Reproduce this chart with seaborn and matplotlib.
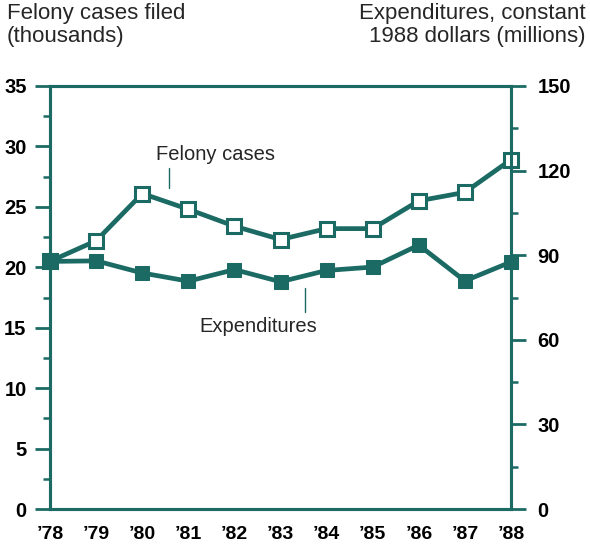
import matplotlib
matplotlib.use("Agg")
import matplotlib.pyplot as plt
import seaborn as sns
import pandas as pd
from matplotlib.ticker import MultipleLocator

years = ["’78", "’79", "’80", "’81", "’82", "’83", "’84", "’85", "’86", "’87", "’88"]
felony_cases = [20.5, 22.2, 26.1, 24.8, 23.4, 22.3, 23.2, 23.2, 25.5, 26.2, 28.9]
expenditures = [87.8, 88.0, 83.7, 80.8, 84.9, 80.6, 84.6, 85.8, 93.6, 80.9, 87.6]

sns.set_style("ticks")
plt.rcParams["font.family"] = ["Liberation Sans", "DejaVu Sans"]

TEAL = "#1b6b64"
df = pd.DataFrame({"idx": range(len(years)), "felony": felony_cases, "exp": expenditures})

fig = plt.figure(figsize=(5.9, 5.51), dpi=100)
ax = fig.add_axes([0.085, 0.076, 0.781, 0.768])
ax2 = ax.twinx()

sns.lineplot(data=df, x="idx", y="felony", ax=ax, color=TEAL, lw=3.4,
             marker="s", markersize=10, markerfacecolor="white", markeredgecolor=TEAL,
             markeredgewidth=2.2, clip_on=False, zorder=3)
sns.lineplot(data=df, x="idx", y="exp", ax=ax2, color=TEAL, lw=3.4,
             marker="s", markersize=10.5, markerfacecolor=TEAL, markeredgecolor=TEAL,
             clip_on=False, zorder=4)

ax.set_xlim(0, len(years) - 1)
ax.set_ylim(0, 35)
ax2.set_ylim(0, 150)

for a in (ax, ax2):
    for s in a.spines.values():
        s.set_color(TEAL)
        s.set_linewidth(2.2)
    a.set_xlabel("")
    a.set_ylabel("")

ax.set_xticks(range(len(years)))
ax.set_xticklabels(years)
ax.set_yticks(range(0, 36, 5))
ax.yaxis.set_minor_locator(MultipleLocator(2.5))
ax2.set_yticks(range(0, 151, 30))
ax2.yaxis.set_minor_locator(MultipleLocator(15))

ax.tick_params(axis="x", length=0, pad=12, labelsize=14, labelcolor="black")
ax.tick_params(axis="y", which="major", length=11, width=2, color=TEAL, pad=6,
               labelsize=14.5, labelcolor="black")
ax.tick_params(axis="y", which="minor", length=5, width=1.8, color=TEAL)
ax2.tick_params(axis="y", which="major", length=11, width=2, color=TEAL, pad=8,
                labelsize=14.5, labelcolor="black")
ax2.tick_params(axis="y", which="minor", length=5, width=1.8, color=TEAL)
for lab in ax.get_xticklabels() + ax.get_yticklabels() + ax2.get_yticklabels():
    lab.set_fontweight("bold")

fig.text(0.012, 0.995, "Felony cases filed\n(thousands)", ha="left", va="top",
         fontsize=16, linespacing=1.15)
fig.text(0.992, 0.995, "Expenditures, constant\n1988 dollars (millions)", ha="right", va="top",
         fontsize=16, linespacing=1.15, multialignment="right")

ax.text(3.58, 29.3, "Felony cases", ha="center", va="center", fontsize=14.5)
ax.plot([2.58, 2.58], [26.6, 28.2], color=TEAL, lw=1)
ax.text(4.51, 15.1, "Expenditures", ha="center", va="center", fontsize=14.5)
ax.plot([5.53, 5.53], [16.3, 18.3], color=TEAL, lw=1)

fig.savefig("out.png", dpi=100)
